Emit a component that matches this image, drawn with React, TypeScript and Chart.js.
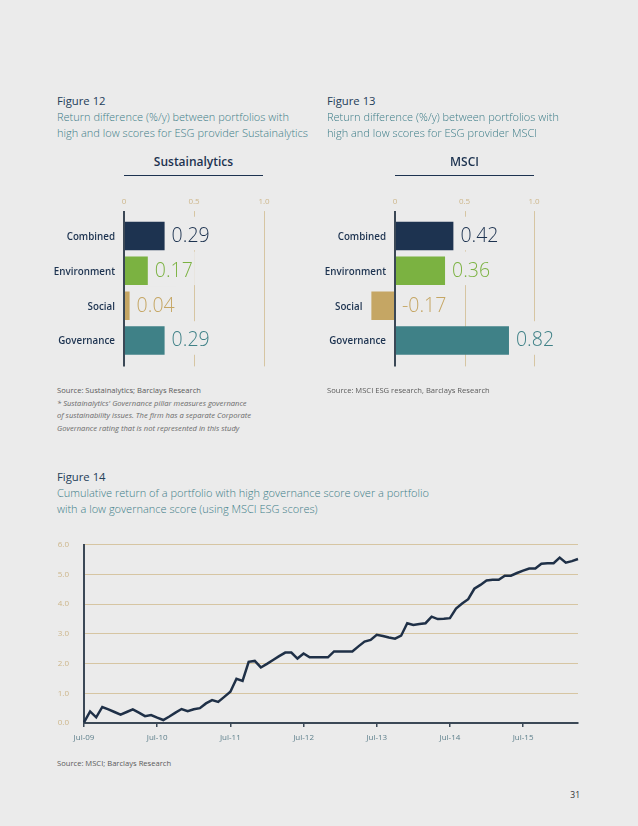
import React, { useEffect, useRef } from "react";
import { Chart, registerables } from "chart.js";

Chart.register(...registerables);

// ---- data ----
const pillarLabels = ["Combined", "Environment", "Social", "Governance"];
const sustainalyticsValues = [0.29, 0.17, 0.04, 0.29];
const msciValues = [0.42, 0.36, -0.17, 0.82];
const barTicks = [0, 0.5, 1.0];

const xTickLabels = ["Jul-09", "Jul-10", "Jul-11", "Jul-12", "Jul-13", "Jul-14", "Jul-15"];
// monthly cumulative return (%), Jul-09 .. Apr-16
const cumulativeReturn = [
  0.02, 0.39, 0.19, 0.54, 0.46, 0.37, 0.28, 0.37, 0.46, 0.35, 0.23, 0.27,
  0.18, 0.1, 0.22, 0.35, 0.47, 0.4, 0.46, 0.5, 0.66, 0.77, 0.71, 0.88,
  1.05, 1.49, 1.42, 2.06, 2.09, 1.87, 1.99, 2.12, 2.25, 2.37, 2.37, 2.17,
  2.34, 2.21, 2.21, 2.21, 2.21, 2.41, 2.41, 2.41, 2.41, 2.58, 2.74, 2.8,
  2.97, 2.93, 2.88, 2.84, 2.94, 3.36, 3.3, 3.33, 3.36, 3.58, 3.5, 3.51,
  3.53, 3.85, 4.02, 4.17, 4.52, 4.65, 4.8, 4.82, 4.82, 4.96, 4.96, 5.05,
  5.13, 5.2, 5.2, 5.36, 5.38, 5.38, 5.57, 5.4, 5.45, 5.52,
];

// ---- colours ----
const PAGE_BG = "#ebebeb";
const NAVY = "#1d3350";
const pillarColors = ["#1d3350", "#7bb241", "#c5a664", "#3f8187"];
const GRID_TAN = "#d6c5a2";
const TICK_TAN = "#cdb68a";
const AXIS_DARK = "#3b4856";
const TEAL_TEXT = "#3d7d88";
const FIG_TEXT = "#24405a";
const FONT = "'Open Sans', 'DejaVu Sans', sans-serif";

const barDecor = {
  id: "barDecor",
  beforeDatasetsDraw(chart: any) {
    const { ctx, chartArea, scales } = chart;
    const x = scales.x;
    const top = chartArea.top - 7.5;
    const bottom = chartArea.bottom + 8.5;
    ctx.save();
    ctx.strokeStyle = GRID_TAN;
    ctx.lineWidth = 1;
    barTicks.forEach((t) => {
      if (t === 0) return;
      const px = Math.round(x.getPixelForValue(t)) + 0.5;
      ctx.beginPath();
      ctx.moveTo(px, top);
      ctx.lineTo(px, bottom);
      ctx.stroke();
    });
    ctx.fillStyle = TICK_TAN;
    ctx.font = `8px ${FONT}`;
    ctx.textAlign = "center";
    ctx.textBaseline = "middle";
    barTicks.forEach((t) => {
      ctx.fillText(t === 0 ? "0" : t.toFixed(1), x.getPixelForValue(t), chartArea.top - 16.5);
    });
    ctx.restore();
  },
  afterDatasetsDraw(chart: any) {
    const { ctx, chartArea, scales } = chart;
    const x = scales.x;
    const values = chart.data.datasets[0].data as number[];
    const meta = chart.getDatasetMeta(0);
    ctx.save();
    // value labels with page-coloured box behind them
    ctx.font = `300 19.5px ${FONT}`;
    ctx.textAlign = "left";
    ctx.textBaseline = "alphabetic";
    meta.data.forEach((bar: any, i: number) => {
      const v = values[i];
      const text = v.toFixed(2);
      const lx = x.getPixelForValue(Math.max(0, v)) + 7;
      const w = ctx.measureText(text).width;
      const h = bar.height;
      ctx.fillStyle = PAGE_BG;
      ctx.fillRect(lx - 2, bar.y - h / 2 - 5, w + 4, h + 5);
      ctx.fillStyle = pillarColors[i];
      ctx.fillText(text, lx, bar.y + 6);
    });
    // zero axis
    const zx = x.getPixelForValue(0);
    ctx.strokeStyle = AXIS_DARK;
    ctx.lineWidth = 2;
    ctx.beginPath();
    ctx.moveTo(zx, chartArea.top - 7.5);
    ctx.lineTo(zx, chartArea.bottom + 8.5);
    ctx.stroke();
    // category labels, placed left of each bar's base
    ctx.font = `600 9.8px ${FONT}`;
    ctx.textAlign = "right";
    ctx.fillStyle = NAVY;
    meta.data.forEach((bar: any, i: number) => {
      const v = values[i];
      ctx.fillText(chart.data.labels[i], x.getPixelForValue(Math.min(0, v)) - 9, bar.y + 4);
    });
    ctx.restore();
  },
};

function PillarChart(props: { values: number[]; xMin: number; padding: any }) {
  const canvasRef = useRef<HTMLCanvasElement | null>(null);
  useEffect(() => {
    if (!canvasRef.current) return;
    const chart = new Chart(canvasRef.current, {
      type: "bar",
      data: {
        labels: pillarLabels,
        datasets: [
          {
            data: props.values,
            backgroundColor: pillarColors,
            borderWidth: 0,
            categoryPercentage: 1,
            barPercentage: 0.82,
          },
        ],
      },
      options: {
        indexAxis: "y",
        responsive: true,
        maintainAspectRatio: false,
        animation: false,
        layout: { padding: props.padding },
        plugins: { legend: { display: false }, tooltip: { enabled: false } },
        scales: {
          x: { type: "linear", min: props.xMin, max: 1, display: false },
          y: { display: false },
        },
      },
      plugins: [barDecor],
    });
    return () => chart.destroy();
  }, []);
  return <canvas ref={canvasRef} />;
}

function ReturnChart() {
  const canvasRef = useRef<HTMLCanvasElement | null>(null);
  useEffect(() => {
    if (!canvasRef.current) return;
    const labels = cumulativeReturn.map((_, i) => (i % 12 === 0 ? xTickLabels[i / 12] : ""));
    const chart = new Chart(canvasRef.current, {
      type: "line",
      data: {
        labels,
        datasets: [
          {
            data: cumulativeReturn,
            borderColor: "#1f3047",
            borderWidth: 2.5,
            pointRadius: 0,
            tension: 0,
            fill: false,
          },
        ],
      },
      options: {
        responsive: true,
        maintainAspectRatio: false,
        animation: false,
        layout: { padding: { top: 1, right: 22, left: 0, bottom: 0 } },
        plugins: { legend: { display: false }, tooltip: { enabled: false } },
        scales: {
          x: {
            grid: {
              drawOnChartArea: false,
              tickLength: 4,
              color: (c: any) => (c.index % 12 === 0 ? AXIS_DARK : "transparent"),
              tickColor: (c: any) => (c.index % 12 === 0 ? AXIS_DARK : "transparent"),
              lineWidth: 1.5,
            },
            border: { color: AXIS_DARK, width: 2 },
            ticks: {
              autoSkip: false,
              maxRotation: 0,
              padding: 6,
              color: "#5d7f8b",
              font: { family: FONT, size: 8 },
            },
            afterFit: (s: any) => {
              s.height = 27;
            },
          },
          y: {
            min: 0,
            max: 6,
            ticks: {
              stepSize: 1,
              padding: 15,
              color: TICK_TAN,
              font: { family: FONT, size: 8 },
              callback: (v: any) => Number(v).toFixed(1),
            },
            grid: { color: GRID_TAN, drawTicks: false, lineWidth: 1 },
            border: { color: AXIS_DARK, width: 2 },
            afterFit: (s: any) => {
              s.width = 44;
            },
          },
        },
      },
    });
    return () => chart.destroy();
  }, []);
  return <canvas ref={canvasRef} />;
}

const abs = (left: number, top: number, extra: React.CSSProperties = {}): React.CSSProperties => ({
  position: "absolute",
  left,
  top,
  whiteSpace: "nowrap",
  ...extra,
});

const figStyle: React.CSSProperties = { fontSize: 11.3, lineHeight: "15px", color: FIG_TEXT, fontWeight: 400 };
const subStyle: React.CSSProperties = { fontSize: 11, lineHeight: "15.5px", color: TEAL_TEXT, fontWeight: 300 };
const srcStyle: React.CSSProperties = { fontSize: 7.6, lineHeight: "12.6px", color: "#5a5a5a", fontWeight: 400 };
const chartTitle: React.CSSProperties = {
  fontSize: 12,
  lineHeight: "15px",
  fontWeight: 600,
  color: NAVY,
  textAlign: "center",
  width: 139,
};

export default function App() {
  return (
    <div
      style={{
        position: "absolute",
        left: 0,
        top: 0,
        width: 638,
        height: 826,
        background: PAGE_BG,
        fontFamily: FONT,
        overflow: "hidden",
      }}
    >
      <div style={abs(57, 92.5, figStyle)}>Figure 12</div>
      <div style={abs(57, 109.2, subStyle)}>
        Return difference (%/y) between portfolios with
        <br />
        high and low scores for ESG provider Sustainalytics
      </div>
      <div style={abs(124, 154, chartTitle)}>Sustainalytics</div>
      <div style={abs(124, 174.5, { width: 139, height: 1.5, background: NAVY })} />
      <div style={abs(40, 195, { width: 280, height: 185 })}>
        <PillarChart values={sustainalyticsValues} xMin={0} padding={{ left: 84, right: 56, top: 23.6, bottom: 22.1 }} />
      </div>
      <div style={abs(57, 384, srcStyle)}>
        Source: Sustainalytics; Barclays Research
        <br />
        <i style={{ color: "#6a6a6a" }}>* Sustainalytics' Governance pillar measures governance</i>
        <br />
        <i style={{ color: "#6a6a6a" }}>of sustainability issues. The firm has a separate Corporate</i>
        <br />
        <i style={{ color: "#6a6a6a" }}>Governance rating that is not represented in this study</i>
      </div>

      <div style={abs(327, 92.5, figStyle)}>Figure 13</div>
      <div style={abs(327, 109.2, subStyle)}>
        Return difference (%/y) between portfolios with
        <br />
        high and low scores for ESG provider MSCI
      </div>
      <div style={abs(395, 154, chartTitle)}>MSCI</div>
      <div style={abs(395, 174.5, { width: 139, height: 1.5, background: NAVY })} />
      <div style={abs(310, 195, { width: 290, height: 185 })}>
        <PillarChart values={msciValues} xMin={-0.2} padding={{ left: 57.2, right: 66, top: 23.6, bottom: 22.1 }} />
      </div>
      <div style={abs(327, 384, srcStyle)}>Source: MSCI ESG research, Barclays Research</div>

      <div style={abs(57, 469, figStyle)}>Figure 14</div>
      <div style={abs(57, 485.2, subStyle)}>
        Cumulative return of a portfolio with high governance score over a portfolio
        <br />
        with a low governance score (using MSCI ESG scores)
      </div>
      <div style={abs(40, 525, { width: 560, height: 225 })}>
        <ReturnChart />
      </div>
      <div style={abs(57, 757, srcStyle)}>Source: MSCI; Barclays Research</div>
      <div style={abs(560, 788, { fontSize: 8.5, lineHeight: "13px", color: "#333", width: 20, textAlign: "right" })}>31</div>
    </div>
  );
}
